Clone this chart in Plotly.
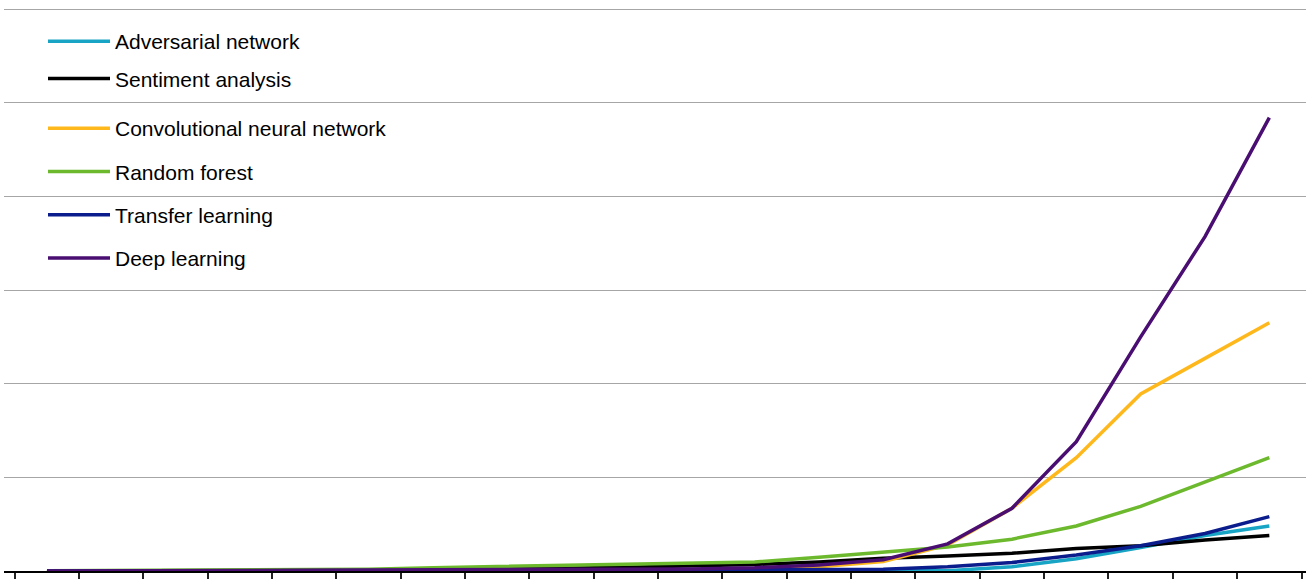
import plotly.graph_objects as go

periods = list(range(20))
tick_bounds = [i - 0.5 for i in range(21)]

adversarial = [0, 0, 0, 0, 0, 0, 0, 0, 0, 0, 0, 0, 0, 0, 0.003, 0.045, 0.13, 0.25, 0.38, 0.48]
sentiment = [0, 0, 0.002, 0.004, 0.006, 0.01, 0.015, 0.02, 0.03, 0.04, 0.055, 0.07, 0.095, 0.135, 0.16, 0.19, 0.24, 0.27, 0.33, 0.38]
cnn = [0, 0, 0, 0, 0, 0, 0, 0, 0, 0, 0.002, 0.005, 0.046, 0.10, 0.28, 0.67, 1.21, 1.89, 2.27, 2.65]
random_forest = [0.002, 0.004, 0.006, 0.008, 0.012, 0.018, 0.035, 0.046, 0.06, 0.07, 0.085, 0.097, 0.146, 0.20, 0.255, 0.34, 0.48, 0.69, 0.95, 1.21]
transfer = [0, 0, 0, 0, 0, 0, 0, 0, 0, 0.005, 0.008, 0.012, 0.015, 0.02, 0.045, 0.09, 0.17, 0.27, 0.40, 0.58]
deep = [0, 0, 0.003, 0.005, 0.007, 0.01, 0.012, 0.014, 0.016, 0.018, 0.022, 0.035, 0.064, 0.12, 0.29, 0.67, 1.38, 2.50, 3.57, 4.84]

series = [
    ("Adversarial network", adversarial, "#18a4c4", "legend"),
    ("Sentiment analysis", sentiment, "#000000", "legend"),
    ("Convolutional neural network", cnn, "#ffb81c", "legend2"),
    ("Random forest", random_forest, "#6cb92d", "legend2"),
    ("Transfer learning", transfer, "#0b1d8c", "legend2"),
    ("Deep learning", deep, "#4a0e73", "legend2"),
]

fig = go.Figure()
for name, vals, color, leg in series:
    fig.add_trace(go.Scatter(
        x=periods, y=vals, mode="lines", name=name,
        line=dict(color=color, width=3.5), legend=leg, legendgroup=name,
    ))

W, H = 1306, 579
ML, MT, MB = 4, 4, 8
PW, PH = W - ML, H - MT - MB
Y_TOP = 6 + (9 - MT) / 93.68


def px_x(px):
    return (px - ML) / PW


def px_y(py):
    return (H - MB - py) / PH


legend_common = dict(
    xref="paper", yref="paper", xanchor="left", yanchor="top",
    bgcolor="rgba(0,0,0,0)", borderwidth=0, traceorder="grouped",
    itemwidth=62, font=dict(family="Liberation Sans, Arial, sans-serif", size=21, color="#000000"),
)

fig.update_layout(
    width=W, height=H,
    margin=dict(l=ML, r=0, t=MT, b=MB, autoexpand=False),
    paper_bgcolor="white", plot_bgcolor="white",
    showlegend=True,
    legend=dict(x=px_x(43), y=px_y(21), tracegroupgap=7, **legend_common),
    legend2=dict(x=px_x(43), y=px_y(108), tracegroupgap=13, **legend_common),
    xaxis=dict(
        range=[-0.668, 19.57], showgrid=False, zeroline=False,
        tickmode="array", tickvals=tick_bounds, showticklabels=False,
        ticks="outside", ticklen=8, tickwidth=1.5, tickcolor="#222222",
        showline=True, linecolor="#000000", linewidth=1.5,
    ),
    yaxis=dict(
        range=[0, Y_TOP], tickmode="array", tickvals=[1, 2, 3, 4, 5, 6],
        showgrid=True, gridcolor="#a6a6a6", gridwidth=1,
        zeroline=False, showticklabels=False, ticks="",
    ),
)

fig.write_html("out.html")
